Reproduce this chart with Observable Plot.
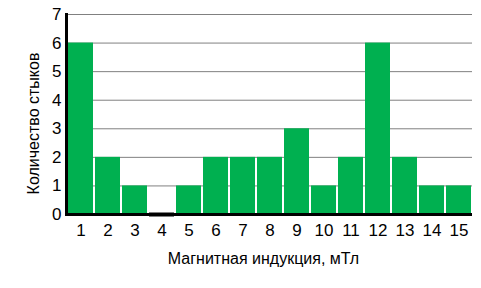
<!DOCTYPE html>
<html>
<head>
<meta charset="utf-8">
<script src="https://cdn.jsdelivr.net/npm/d3@7"></script>
<script src="https://cdn.jsdelivr.net/npm/@observablehq/plot@0.6"></script>
<style>
  html, body { margin: 0; padding: 0; background: #fff; }
</style>
</head>
<body>
<div id="chart"></div>
<script>
const categories = ["1","2","3","4","5","6","7","8","9","10","11","12","13","14","15"];
const counts = [6, 2, 1, 0, 1, 2, 2, 2, 3, 1, 2, 6, 2, 1, 1];
const yTicks = [0, 1, 2, 3, 4, 5, 6, 7];
const xLabel = "Магнитная индукция, мТл";
const yLabel = "Количество стыков";

const data = categories.map((c, i) => ({cat: c, value: counts[i]}));

const chart = Plot.plot({
  width: 481,
  height: 288,
  marginLeft: 66,
  marginRight: 9,
  marginTop: 14,
  marginBottom: 74,
  style: {fontFamily: "Liberation Sans, Arial, sans-serif", background: "#fff", color: "#000"},
  x: {domain: categories, paddingInner: 0.08, paddingOuter: 0.04, label: null},
  y: {domain: [0, 7], label: null},
  marks: [
    Plot.gridY(yTicks.filter(d => d > 0), {stroke: "#808080", strokeOpacity: 1, strokeWidth: 1}),
    Plot.barY(data.filter(d => d.value > 0), {x: "cat", y: "value", fill: "#00b050"}),
    Plot.tickY(data.filter(d => d.value === 0), {x: "cat", y: "value", stroke: "black", strokeWidth: 4}),
    Plot.ruleY([0], {stroke: "black", strokeWidth: 3}),
    Plot.frame({anchor: "left", stroke: "black", strokeWidth: 3}),
    Plot.axisY(yTicks, {tickSize: 0, tickPadding: 5, fontSize: 17, label: null}),
    Plot.axisX({tickSize: 0, tickPadding: 9, fontSize: 17, label: null}),
    Plot.text([yLabel], {frameAnchor: "left", rotate: -90, textAnchor: "middle", lineAnchor: "middle", dx: -33, dy: 9, fontSize: 16, fill: "black"}),
    Plot.text([xLabel], {frameAnchor: "bottom", textAnchor: "middle", lineAnchor: "middle", dx: -6, dy: 44, fontSize: 16, fill: "black"})
  ]
});

document.getElementById("chart").appendChild(chart);
</script>
</body>
</html>
